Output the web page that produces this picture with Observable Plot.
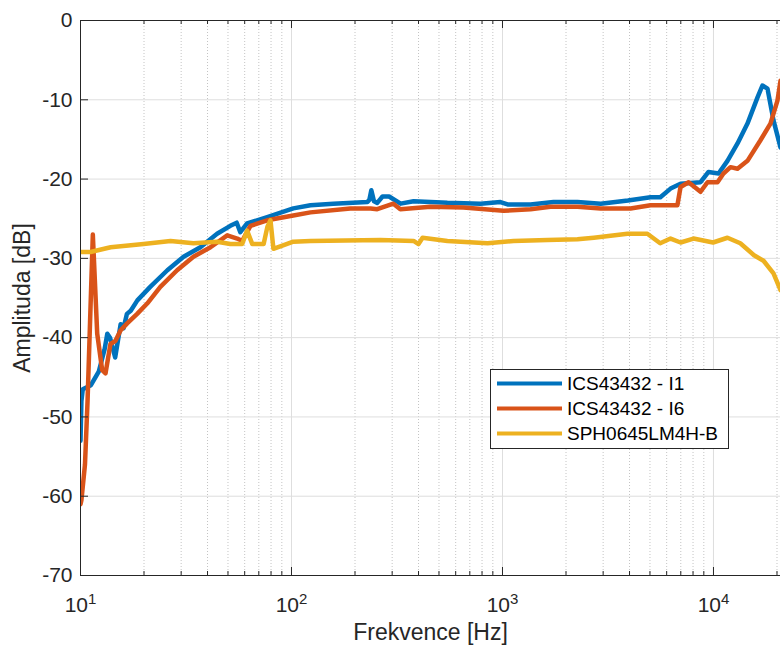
<!DOCTYPE html>
<html>
<head>
<meta charset="utf-8">
<script src="https://cdn.jsdelivr.net/npm/d3@7"></script>
<script src="https://cdn.jsdelivr.net/npm/@observablehq/plot@0.6"></script>
<style>
  html, body { margin: 0; padding: 0; background: #fff; }
  #chart { position: relative; width: 780px; height: 646px; overflow: hidden; }
  #chart svg { display: block; }
</style>
</head>
<body>
<div id="chart"></div>
<script>
// Frequency response of three MEMS microphones (log frequency axis).
const seriesNames = ["ICS43432 - I1", "ICS43432 - I6", "SPH0645LM4H-B"];
const seriesColors = ["#0072BD", "#D95319", "#EDB120"];

const i1Freq = [10, 10.1, 10.25, 11.2, 12.2, 13.0, 13.4, 13.8, 14.6, 15.5, 16.0, 16.6, 17.3, 18.6, 21.4, 25.8, 30.8, 37.0, 44.4, 51.3, 55.0, 57.2, 61.6, 76.7, 102, 123, 158, 229, 234, 239, 246, 255, 270, 290, 329, 379, 548, 787, 978, 1057, 1358, 1745, 2266, 2920, 3930, 5030, 5600, 6260, 6980, 8680, 9470, 10570, 11650, 13000, 14490, 16170, 17060, 18030, 19250, 20780];
const i1Db = [-53, -48, -46.5, -46.0, -44.3, -41.5, -39.5, -40, -42.5, -38.3, -38.8, -37.0, -36.6, -35.3, -33.6, -31.5, -29.8, -28.6, -26.9, -25.9, -25.5, -26.7, -25.6, -24.8, -23.7, -23.3, -23.1, -22.9, -22.6, -21.4, -22.8, -23.0, -22.2, -22.2, -23.1, -22.8, -23.0, -23.1, -22.9, -23.2, -23.2, -22.9, -22.9, -23.1, -22.7, -22.3, -22.3, -21.2, -20.6, -20.4, -19.1, -19.3, -17.7, -15.5, -13.0, -9.7, -8.2, -8.6, -12.6, -16.0];

const i6Freq = [10, 10.1, 10.5, 10.8, 11.1, 11.44, 12.0, 12.67, 13.14, 13.87, 14.65, 15.47, 16.64, 18.56, 20.7, 23.9, 28.7, 34.3, 41.3, 49.6, 55.3, 58.4, 63.9, 76.7, 102, 123, 190, 237, 255, 304, 328, 456, 653, 1011, 1358, 1688, 2266, 2920, 4045, 5030, 6747, 6980, 7620, 8680, 9370, 10450, 11150, 12040, 13000, 14490, 16700, 18620, 20100, 20780];
const i6Db = [-61, -60.5, -56, -48, -38, -27, -39.5, -44.1, -44.5, -40.8, -40.4, -39.1, -38.2, -37.0, -35.7, -33.6, -31.5, -29.8, -28.6, -27.1, -27.5, -27.8, -25.9, -25.2, -24.6, -24.2, -23.7, -23.7, -23.8, -23.1, -23.8, -23.5, -23.6, -24.0, -23.8, -23.5, -23.5, -23.7, -23.7, -23.3, -23.3, -21.0, -20.4, -21.6, -20.4, -20.4, -19.3, -18.5, -18.7, -17.7, -15.1, -13.0, -10.1, -7.6];

const sphFreq = [10, 11.15, 13.9, 19.9, 26.7, 34.3, 44.4, 51.3, 58.4, 61.6, 65.2, 73.8, 76.9, 79.5, 82.1, 102, 123, 264, 379, 400, 418, 548, 849, 1127, 1634, 2266, 2710, 3910, 4860, 5590, 6260, 6980, 8040, 9950, 11650, 13400, 15560, 17260, 19250, 20780];
const sphDb = [-29.2, -29.2, -28.6, -28.2, -27.8, -28.1, -27.9, -28.2, -28.2, -26.5, -28.2, -28.2, -26.0, -25.2, -28.8, -27.9, -27.8, -27.7, -27.8, -28.2, -27.4, -27.8, -28.1, -27.8, -27.7, -27.6, -27.4, -26.9, -26.9, -28.1, -27.5, -28.0, -27.5, -28.0, -27.4, -28.1, -29.6, -30.3, -31.9, -34.0];

const yTicks = [0, -10, -20, -30, -40, -50, -60, -70];
const xDecades = [10, 100, 1000, 10000];
const xMax = 20780;
const xLabel = "Frekvence [Hz]";
const yLabel = "Amplituda [dB]";

const W = 780, H = 646;
const mL = 80, mR = 0, mT = 20, mB = 71;
const frameW = W - mL - mR, frameH = H - mT - mB;
const axisColor = "#262626";
const font = "'Liberation Sans', Arial, Helvetica, sans-serif";

const freqs = [i1Freq, i6Freq, sphFreq];
const dbs = [i1Db, i6Db, sphDb];
const rows = [];
seriesNames.forEach((name, i) => freqs[i].forEach((f, j) => rows.push({ name, f, db: dbs[i][j] })));

const minorX = [];
for (const d of xDecades) for (let k = 2; k <= 9; k++) if (k * d <= xMax) minorX.push(k * d);

const chart = Plot.plot({
  width: W, height: H,
  marginLeft: mL, marginRight: mR, marginTop: mT, marginBottom: mB,
  style: { fontFamily: font, fontSize: "21px", color: axisColor, background: "#fff" },
  x: { type: "log", domain: [10, xMax] },
  y: { domain: [-70, 0] },
  color: { domain: seriesNames, range: seriesColors },
  marks: [
    // grid
    Plot.ruleX(minorX, { stroke: "#c4c4c4", strokeDasharray: "1,2", strokeWidth: 1 }),
    Plot.ruleX(xDecades.slice(1), { stroke: "#dedede", strokeWidth: 1 }),
    Plot.ruleY(yTicks.filter(v => v > -70 && v < 0), { stroke: "#dedede", strokeWidth: 1 }),
    // data
    Plot.line(rows, { x: "f", y: "db", z: "name", stroke: "name", strokeWidth: 4.5, strokeLinejoin: "round", clip: true }),
    // inward ticks, bottom and top
    Plot.ruleX(xDecades, { insetTop: frameH - 8, stroke: axisColor }),
    Plot.ruleX(minorX, { insetTop: frameH - 4, stroke: axisColor }),
    Plot.ruleX(xDecades, { insetBottom: frameH - 8, stroke: axisColor }),
    Plot.ruleX(minorX, { insetBottom: frameH - 4, stroke: axisColor }),
    Plot.ruleY(yTicks, { insetRight: frameW - 8, stroke: axisColor }),
    // axis box
    Plot.ruleY([-70, 0], { stroke: axisColor }),
    Plot.ruleX([10], { stroke: axisColor }),
    Plot.axisX(xDecades, { tickSize: 0, tickPadding: 22, tickFormat: d => String(Math.round(Math.log10(d))), label: null }),
    Plot.axisY(yTicks, { tickSize: 0, tickPadding: 8, tickFormat: d => String(d), label: null }),
    Plot.text([xLabel], { frameAnchor: "bottom", lineAnchor: "middle", textAnchor: "middle", dy: 57, fontSize: 23, fill: axisColor }),
    Plot.text([yLabel], { frameAnchor: "left", lineAnchor: "middle", textAnchor: "middle", dx: -58, rotate: -90, fontSize: 23, fill: axisColor })
  ]
});

document.getElementById("chart").appendChild(chart);

// exponent-style tick labels: 10^n
d3.select(chart).selectAll('g[aria-label="x-axis tick label"] text').each(function () {
  const e = this.textContent;
  const t = d3.select(this);
  t.text("10");
  t.append("tspan").attr("dy", "-0.55em").attr("font-size", "15px").text(e);
});

// legend box inside the axes
const svg = d3.select(chart);
const lg = svg.append("g")
  .attr("font-family", font).attr("font-size", "19px").attr("text-anchor", "start");
lg.append("rect").attr("x", 490.5).attr("y", 369.5).attr("width", 238).attr("height", 79)
  .attr("fill", "#fff").attr("stroke", axisColor).attr("stroke-width", 1);
seriesNames.forEach((name, i) => {
  const cy = 383.5 + i * 25;
  lg.append("line").attr("x1", 497).attr("x2", 562).attr("y1", cy).attr("y2", cy)
    .attr("stroke", seriesColors[i]).attr("stroke-width", 4).attr("stroke-linecap", "butt");
  lg.append("text").attr("x", 567).attr("y", cy).attr("dy", "0.35em")
    .attr("text-anchor", "start").attr("fill", "#000").text(name);
});
</script>
</body>
</html>
